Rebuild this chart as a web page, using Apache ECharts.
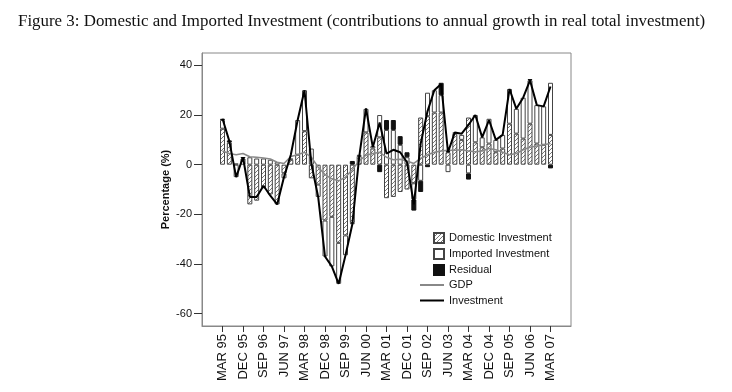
<!DOCTYPE html>
<html><head><meta charset="utf-8">
<script src="https://cdn.jsdelivr.net/npm/echarts@6/dist/echarts.min.js"></script>
<style>html,body{margin:0;padding:0;background:#fff}#c{width:732px;height:392px}</style>
</head><body><div id="c"></div>
<script>
const quarters = ['MAR 95','JUN 95','SEP 95','DEC 95','MAR 96','JUN 96','SEP 96','DEC 96','MAR 97','JUN 97','SEP 97','DEC 97',
 'MAR 98','JUN 98','SEP 98','DEC 98','MAR 99','JUN 99','SEP 99','DEC 99','MAR 00','JUN 00','SEP 00','DEC 00',
 'MAR 01','JUN 01','SEP 01','DEC 01','MAR 02','JUN 02','SEP 02','DEC 02','MAR 03','JUN 03','SEP 03','DEC 03',
 'MAR 04','JUN 04','SEP 04','DEC 04','MAR 05','JUN 05','SEP 05','DEC 05','MAR 06','JUN 06','SEP 06','DEC 06','MAR 07'];
const domestic = [14.5,9,0.5,2.5,-16,-14.5,-9.5,-12,-16,-3.5,2,4,13.5,-5.5,-8,-22.5,-21,-31.5,-28.5,-23.5,3.5,13,6.5,11,
 -13.5,-13,-11,-10,-7.5,19,19.5,21,21,5,12.5,10,19,9,7,8.5,5,6.5,16.5,12.5,10.5,16.5,8.5,8,12];
const imported = [3.5,0,-5,0,3,2.5,2.5,2,1,-2,0.5,14,16.5,6.5,-5,-14.5,-20,-16.5,-8,-0.5,0.5,9.5,1,9,
 14,14,8,3,-6.5,-6.5,9.5,9,7,-3,0.5,2,-3.5,11,4,10,5,5.5,14,10,16.5,17.5,15.5,15.5,21];
const residual = [0.5,0.8,0,0.6,0,0,0,0,0,0,0,0,0,0,0,0,0,0,0,1.5,0,0,0,-3,
 4,4,3.5,2,-4.5,-4.5,-1,0,5,0.5,0,0,-2.5,0,0,0,0,0,0,0,0,0.5,0,0,-1.5];
const gdp = [5.5,4.5,4,4.5,3.2,3,2.7,2.3,1,0.5,3.3,4,5,3,-1,-4,-5.7,-6.5,-5,-2,1.5,3.8,4.5,5,
 3,2,2.2,1.5,0.5,2.5,4,5,5.5,5.8,5.8,6,5.5,5.2,5.5,6.5,6,5,4,4.5,6,7,7.5,8,8.5];
const investment = [18.5,9.5,-5,3,-13,-13,-8.5,-12.5,-16,-5,4,18,30,0.5,-13,-37,-41,-48,-36.5,-24,3,22.7,7,17,
 4.5,6,5,1,-16,8.5,21.5,30,32.5,5,13,12.5,16,20,11,18,10,12,30.5,22.5,27,34,24,23.5,31.5];
const yTicks = [-60,-40,-20,0,20,40];

// empty slots either side of the quarters (axis padding)
const PAD = 3;
const cats = [];
for (let k = 0; k < PAD; k++) cats.push('padL' + k);
quarters.forEach(q => cats.push(q));
for (let k = 0; k < PAD; k++) cats.push('padR' + k);
const showTick = idx => idx >= PAD && idx < PAD + quarters.length && (idx - PAD) % 3 === 0;

const pc = document.createElement('canvas'); pc.width = 4; pc.height = 4;
const g = pc.getContext('2d');
g.fillStyle = '#fff'; g.fillRect(0,0,4,4);
g.strokeStyle = '#777'; g.lineWidth = 1;
g.beginPath(); g.moveTo(-1,5); g.lineTo(5,-1); g.moveTo(-1,1); g.lineTo(1,-1); g.moveTo(3,5); g.lineTo(5,3); g.stroke();
const hatch = {image: pc, repeat: 'repeat'};

const pts = arr => arr.map((v,i)=>[i + PAD, v === 0 ? '-' : v]);
const font = 'Liberation Sans';
const chart = echarts.init(document.getElementById('c'), null, {renderer:'canvas'});
chart.setOption({
  animation: false,
  title: {text: 'Figure 3: Domestic and Imported Investment (contributions to annual growth in real total investment)',
    left: 18, top: 13, padding: 0,
    textStyle: {fontFamily: 'Liberation Serif', fontSize: 16.9, fontWeight: 'normal', color: '#111'}},
  grid: {left: 202, right: 161, top: 53, bottom: 66, show: true, borderColor: '#888', borderWidth: 1},
  xAxis: {type: 'category', data: cats, boundaryGap: false,
    axisLine: {onZero: false, lineStyle: {color: '#888'}},
    axisTick: {interval: showTick, length: 6, lineStyle: {color: '#333'}},
    axisLabel: {interval: showTick, rotate: 90, margin: 8, fontFamily: font, fontSize: 13, color: '#111'},
    splitLine: {show: false}},
  yAxis: {type: 'value', min: -65, max: 45, name: 'Percentage (%)', nameLocation: 'middle', nameGap: 31,
    nameMoveOverlap: false,
    nameTextStyle: {fontFamily: font, fontSize: 11, fontWeight: 'bold', color: '#111'},
    axisLine: {show: true, onZero: false, lineStyle: {color: '#888'}},
    axisTick: {show: true, customValues: yTicks, length: 8, lineStyle: {color: '#333'}},
    axisLabel: {customValues: yTicks, margin: 10, fontFamily: font, fontSize: 11, color: '#111'},
    splitLine: {show: false}},
  legend: [
    {orient: 'vertical', left: 428, top: 227, itemWidth: 10, itemHeight: 10, itemGap: 4, icon: 'rect',
     textStyle: {fontFamily: font, fontSize: 11, color: '#111', lineHeight: 12},
     data: ['Domestic Investment','Imported Investment','Residual']},
    {orient: 'vertical', left: 415, top: 274, itemWidth: 24, itemHeight: 2, itemGap: 3.5, icon: 'rect',
     textStyle: {fontFamily: font, fontSize: 11, color: '#111', lineHeight: 12},
     data: ['GDP','Investment']}
  ],
  series: [
    {name: 'Domestic Investment', type: 'bar', stack: 'inv', barWidth: 5, data: pts(domestic),
     itemStyle: {color: hatch, borderColor: '#444', borderWidth: 1}},
    {name: 'Imported Investment', type: 'bar', stack: 'inv', barWidth: 5, data: pts(imported),
     itemStyle: {color: '#fff', borderColor: '#444', borderWidth: 1}},
    {name: 'Residual', type: 'bar', stack: 'inv', barWidth: 5, data: pts(residual),
     itemStyle: {color: '#111', borderColor: '#111', borderWidth: 1}},
    {name: 'GDP', type: 'line', data: gdp.map((v,i)=>[i + PAD, v]), showSymbol: false, symbol: 'none', z: 3,
     lineStyle: {color: '#888', width: 1.5}, itemStyle: {color: '#888'}},
    {name: 'Investment', type: 'line', data: investment.map((v,i)=>[i + PAD, v]), showSymbol: false, symbol: 'none', z: 4,
     lineStyle: {color: '#000', width: 2}, itemStyle: {color: '#000'}}
  ]
});
</script></body></html>
